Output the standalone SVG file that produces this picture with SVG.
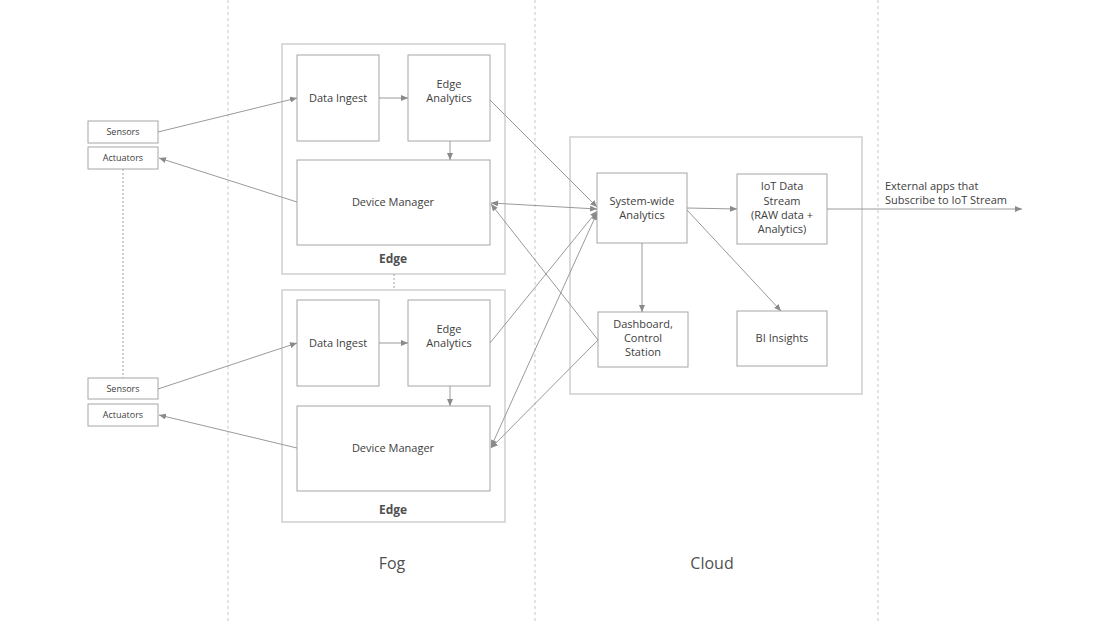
<svg xmlns="http://www.w3.org/2000/svg" width="1107" height="624" viewBox="0 0 1107 624">
<style>
.bg{fill:#fff}
.zone{stroke:#c8c8c8;stroke-width:1;stroke-dasharray:3,3;fill:none}
.grp{fill:none;stroke:#cfcfcf;stroke-width:1.5}
.n{fill:#fff;stroke:#a6a6a6;stroke-width:1}
.t{font-family:"Open Sans","Noto Sans",sans-serif;font-size:11px;fill:#404040;text-anchor:middle}
.ts{font-family:"Open Sans","Noto Sans",sans-serif;font-size:9px;fill:#404040;text-anchor:middle}
.tb{font-family:"Open Sans","Noto Sans",sans-serif;font-size:12px;font-weight:bold;fill:#505050;text-anchor:middle}
.tz{font-family:"Open Sans","Noto Sans",sans-serif;font-size:16px;fill:#505050;text-anchor:middle}
.c{stroke:#9a9a9a;stroke-width:1;fill:none;marker-end:url(#a)}
.cd{stroke:#9a9a9a;stroke-width:1;fill:none;marker-end:url(#a);marker-start:url(#s)}
.dot{stroke:#a0a0a0;stroke-width:1;stroke-dasharray:2,2;fill:none}
</style>
<defs>
<marker id="a" markerWidth="8" markerHeight="6" refX="7" refY="3" orient="auto" markerUnits="userSpaceOnUse"><path d="M0,0 L7,3 L0,6 Z" fill="#8a8a8a"/></marker>
<marker id="s" markerWidth="8" markerHeight="6" refX="0" refY="3" orient="auto" markerUnits="userSpaceOnUse"><path d="M7,0 L0,3 L7,6 Z" fill="#8a8a8a"/></marker>
</defs>
<rect class="bg" x="0" y="0" width="1107" height="624"/>
<g id="zones">
<line class="zone" x1="228" y1="0" x2="228" y2="624"/>
<line class="zone" x1="535" y1="0" x2="535" y2="624"/>
<line class="zone" x1="878" y1="0" x2="878" y2="624"/>
<text class="tz" x="392" y="569">Fog</text>
<text class="tz" x="712" y="569">Cloud</text>
</g>
<g id="edge1"><rect class="grp" x="282" y="44" width="223" height="230"/><text class="tb" x="393" y="263">Edge</text></g>
<g id="edge2"><rect class="grp" x="282" y="290" width="223" height="232"/><text class="tb" x="393" y="514">Edge</text></g>
<g id="cloudbox"><rect class="grp" x="570" y="137" width="292" height="257"/></g>
<g id="sensors1"><rect class="n" x="88" y="121" width="70" height="22"/><text class="ts" x="123" y="135">Sensors</text></g>
<g id="actuators1"><rect class="n" x="88" y="147" width="70" height="22"/><text class="ts" x="123" y="161">Actuators</text></g>
<g id="sensors2"><rect class="n" x="88" y="378" width="70" height="21"/><text class="ts" x="123" y="392">Sensors</text></g>
<g id="actuators2"><rect class="n" x="88" y="404" width="70" height="22"/><text class="ts" x="123" y="418">Actuators</text></g>
<g id="ingest1"><rect class="n" x="297" y="55" width="82" height="86"/><text class="t" x="338" y="102">Data Ingest</text></g>
<g id="analytics1"><rect class="n" x="408" y="55" width="82" height="86"/><text class="t" x="449" y="88">Edge</text><text class="t" x="449" y="102">Analytics</text></g>
<g id="devmgr1"><rect class="n" x="297" y="160" width="193" height="85"/><text class="t" x="393" y="206">Device Manager</text></g>
<g id="ingest2"><rect class="n" x="297" y="300" width="82" height="86"/><text class="t" x="338" y="347">Data Ingest</text></g>
<g id="analytics2"><rect class="n" x="408" y="300" width="82" height="86"/><text class="t" x="449" y="333">Edge</text><text class="t" x="449" y="347">Analytics</text></g>
<g id="devmgr2"><rect class="n" x="297" y="406" width="193" height="85"/><text class="t" x="393" y="452">Device Manager</text></g>
<g id="syswide"><rect class="n" x="597" y="173" width="90" height="70"/><text class="t" x="642" y="205">System-wide</text><text class="t" x="642" y="219">Analytics</text></g>
<g id="iotstream"><rect class="n" x="737" y="174" width="90" height="70"/><text class="t" x="782" y="190">IoT Data</text><text class="t" x="782" y="205">Stream</text><text class="t" x="782" y="219">(RAW data +</text><text class="t" x="782" y="233">Analytics)</text></g>
<g id="dashboard"><rect class="n" x="598" y="312" width="90" height="55"/><text class="t" x="643" y="328">Dashboard,</text><text class="t" x="643" y="342">Control</text><text class="t" x="643" y="356">Station</text></g>
<g id="bi"><rect class="n" x="737" y="311" width="90" height="55"/><text class="t" x="782" y="342">BI Insights</text></g>
<g id="external"><text class="t" x="885" y="190" style="text-anchor:start">External apps that</text><text class="t" x="885" y="204" style="text-anchor:start">Subscribe to IoT Stream</text></g>
<g id="connectors">
<line class="dot" x1="123" y1="169" x2="123" y2="378"/>
<line class="dot" x1="394" y1="274" x2="394" y2="290"/>
<line class="c" x1="158" y1="132" x2="297" y2="98"/>
<line class="c" x1="379" y1="98" x2="408" y2="98"/>
<line class="c" x1="450" y1="141" x2="450" y2="160"/>
<line class="c" x1="297" y1="202" x2="159" y2="158"/>
<line class="c" x1="490" y1="100" x2="597" y2="207"/>
<line class="cd" x1="491" y1="203" x2="597" y2="209"/>
<line class="c" x1="598" y1="340" x2="491" y2="204"/>
<line class="c" x1="490" y1="343" x2="597" y2="211"/>
<line class="cd" x1="491" y1="447" x2="597" y2="213"/>
<line class="c" x1="598" y1="340" x2="491" y2="448"/>
<line class="c" x1="158" y1="389" x2="297" y2="343"/>
<line class="c" x1="379" y1="343" x2="408" y2="343"/>
<line class="c" x1="450" y1="386" x2="450" y2="406"/>
<line class="c" x1="297" y1="448" x2="159" y2="415"/>
<line class="c" x1="687" y1="208" x2="737" y2="209"/>
<line class="c" x1="642" y1="243" x2="642" y2="312"/>
<line class="c" x1="687" y1="210" x2="781" y2="311"/>
<line class="c" x1="827" y1="209" x2="1022" y2="209"/>
</g>
</svg>
